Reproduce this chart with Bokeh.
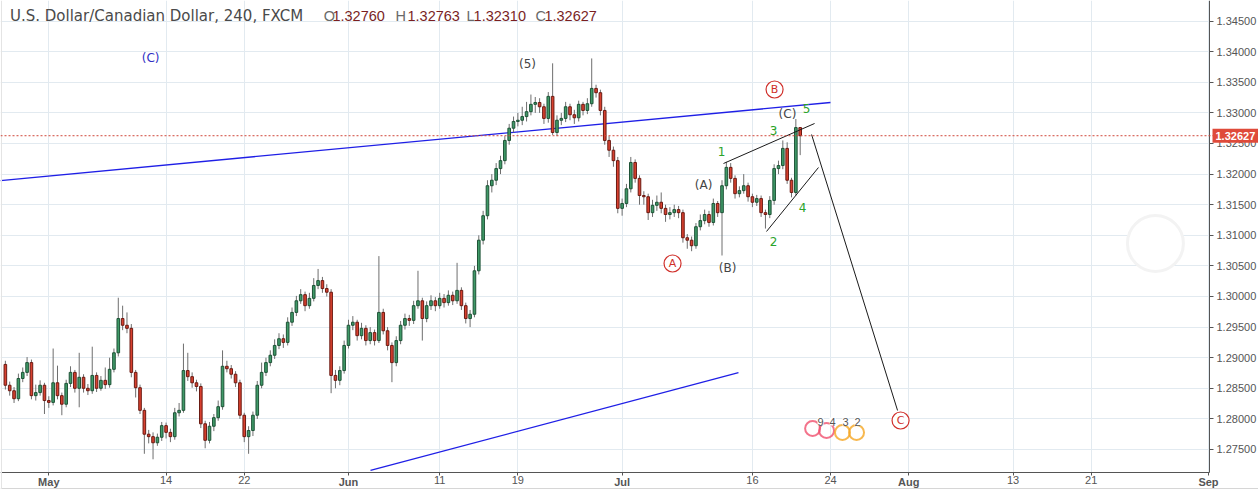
from bokeh.plotting import figure
from bokeh.models import (Range1d, FixedTicker, PrintfTickFormatter, Label, Span,
                          ColumnDataSource, BoxAnnotation)
from bokeh.embed import file_html
from bokeh.resources import INLINE
from bokeh.core.properties import value

# ---------------- data (USD/CAD, bars of 8h, x = trading-day index from 1 May 2018) ----------------
first_open = 1.2889
close = [
    1.2855, 1.2846, 1.2833, 1.2866, 1.2876, 1.2892, 1.2838, 1.2843, 1.2855, 1.2830,
    1.2827, 1.2859, 1.2838, 1.2824, 1.2858, 1.2876, 1.2850, 1.2868, 1.2850, 1.2846,
    1.2871, 1.2850, 1.2863, 1.2856, 1.2881, 1.2908, 1.2964, 1.2953, 1.2948, 1.2876,
    1.2851, 1.2814, 1.2775, 1.2771, 1.2761, 1.2770, 1.2789, 1.2778, 1.2771, 1.2810,
    1.2814, 1.2879, 1.2869, 1.2859, 1.2853, 1.2792, 1.2765, 1.2788, 1.2802, 1.2820,
    1.2886, 1.2882, 1.2873, 1.2859, 1.2806, 1.2771, 1.2781, 1.2806, 1.2855, 1.2876,
    1.2892, 1.2904, 1.2920, 1.2931, 1.2925, 1.2958, 1.2974, 1.2993, 1.3003, 1.2985,
    1.2997, 1.3018, 1.3026, 1.3013, 1.3007, 1.2871, 1.2863, 1.2879, 1.2920, 1.2953,
    1.2958, 1.2936, 1.2948, 1.2928, 1.2941, 1.2928, 1.2974, 1.2944, 1.2920, 1.2892,
    1.2928, 1.2953, 1.2964, 1.2961, 1.2985, 1.2993, 1.2964, 1.2985, 1.2993, 1.2985,
    1.2997, 1.2990, 1.3002, 1.2993, 1.3010, 1.2985, 1.2964, 1.2971, 1.3042, 1.3092,
    1.3132, 1.3181, 1.3190, 1.3209, 1.3222, 1.3255, 1.3275, 1.3286, 1.3288, 1.3294,
    1.3302, 1.3314, 1.3317, 1.3310, 1.3291, 1.3327, 1.3268, 1.3288, 1.3291, 1.3310,
    1.3297, 1.3292, 1.3314, 1.3304, 1.3315, 1.3340, 1.3333, 1.3304, 1.3255, 1.3239,
    1.3222, 1.3144, 1.3152, 1.3176, 1.3219, 1.3193, 1.3165, 1.3163, 1.3137, 1.3149,
    1.3154, 1.3144, 1.3134, 1.3137, 1.3142, 1.3137, 1.3096, 1.3092, 1.3083, 1.3114,
    1.3124, 1.3134, 1.3121, 1.3152, 1.3137, 1.3181, 1.3211, 1.3193, 1.3168, 1.3173,
    1.3181, 1.3163, 1.3154, 1.3160, 1.3137, 1.3134, 1.3157, 1.3209, 1.3214, 1.3242,
    1.3190, 1.3170, 1.3276, 1.32627]
high = [
    1.2895, 1.2861, 1.2852, 1.2874, 1.2884, 1.2901, 1.2897, 1.2856, 1.2863, 1.2859,
    1.2837, 1.2915, 1.2887, 1.2843, 1.2864, 1.2886, 1.2880, 1.2908, 1.2873, 1.2857,
    1.2918, 1.2876, 1.2870, 1.2884, 1.2900, 1.2915, 1.2998, 1.2985, 1.2974, 1.2955,
    1.2880, 1.2856, 1.2818, 1.2782, 1.2778, 1.2776, 1.2795, 1.2794, 1.2784, 1.2818,
    1.2826, 1.2923, 1.2908, 1.2876, 1.2864, 1.2858, 1.2797, 1.2795, 1.2808, 1.2830,
    1.2912, 1.2895, 1.2888, 1.2878, 1.2864, 1.2810, 1.2788, 1.2812, 1.2862, 1.2892,
    1.2900, 1.2912, 1.2930, 1.2940, 1.2938, 1.2966, 1.2982, 1.3001, 1.3012, 1.3008,
    1.3006, 1.3030, 1.3045, 1.3032, 1.3020, 1.3012, 1.2880, 1.2886, 1.2928, 1.2962,
    1.2968, 1.2962, 1.2957, 1.2953, 1.2950, 1.2946, 1.3066, 1.2980, 1.2950, 1.2925,
    1.2935, 1.2960, 1.2972, 1.2970, 1.2993, 1.3042, 1.2998, 1.2992, 1.3002, 1.2999,
    1.3006, 1.3004, 1.3010, 1.3008, 1.3055, 1.3015, 1.2990, 1.2978, 1.3050, 1.3100,
    1.3140, 1.3190, 1.3200, 1.3218, 1.3230, 1.3262, 1.3282, 1.3294, 1.3300, 1.3310,
    1.3318, 1.3330, 1.3326, 1.3324, 1.3315, 1.3334, 1.3381, 1.3296, 1.3300, 1.3318,
    1.3315, 1.3305, 1.3320, 1.3318, 1.3324, 1.3389, 1.3346, 1.3338, 1.3310, 1.3262,
    1.3245, 1.3228, 1.3160, 1.3184, 1.3228, 1.3224, 1.3198, 1.3172, 1.3168, 1.3158,
    1.3165, 1.3170, 1.3150, 1.3146, 1.3150, 1.3148, 1.3142, 1.3102, 1.3098, 1.3120,
    1.3134, 1.3142, 1.3140, 1.3160, 1.3156, 1.3190, 1.3220, 1.3218, 1.3198, 1.3180,
    1.3200, 1.3186, 1.3168, 1.3166, 1.3165, 1.3142, 1.3164, 1.3216, 1.3222, 1.3255,
    1.3252, 1.3194, 1.3290, 1.32763]
low = [
    1.2848, 1.2838, 1.2826, 1.2829, 1.2860, 1.2870, 1.2832, 1.2830, 1.2838, 1.2808,
    1.2818, 1.2822, 1.2832, 1.2806, 1.2819, 1.2852, 1.2843, 1.2819, 1.2843, 1.2839,
    1.2841, 1.2844, 1.2846, 1.2849, 1.2851, 1.2876, 1.2902, 1.2945, 1.2940, 1.2868,
    1.2835, 1.2808, 1.2743, 1.2760, 1.2734, 1.2756, 1.2764, 1.2768, 1.2762, 1.2766,
    1.2804, 1.2810, 1.2862, 1.2851, 1.2845, 1.2785, 1.2752, 1.2760, 1.2780, 1.2797,
    1.2815, 1.2876, 1.2866, 1.2852, 1.2800, 1.2762, 1.2743, 1.2772, 1.2800, 1.2850,
    1.2870, 1.2886, 1.2898, 1.2914, 1.2916, 1.2920, 1.2952, 1.2968, 1.2988, 1.2976,
    1.2980, 1.2992, 1.3012, 1.3006, 1.3000, 1.2842, 1.2850, 1.2855, 1.2874, 1.2915,
    1.2945, 1.2928, 1.2930, 1.2920, 1.2922, 1.2920, 1.2924, 1.2938, 1.2912, 1.2860,
    1.2886, 1.2922, 1.2946, 1.2952, 1.2955, 1.2980, 1.2928, 1.2958, 1.2978, 1.2976,
    1.2980, 1.2982, 1.2985, 1.2986, 1.2988, 1.2978, 1.2956, 1.2950, 1.2966, 1.3036,
    1.3085, 1.3126, 1.3170, 1.3182, 1.3200, 1.3216, 1.3248, 1.3268, 1.3278, 1.3280,
    1.3286, 1.3296, 1.3300, 1.3300, 1.3282, 1.3284, 1.3264, 1.3262, 1.3280, 1.3285,
    1.3288, 1.3282, 1.3286, 1.3296, 1.3298, 1.3310, 1.3325, 1.3296, 1.3248, 1.3228,
    1.3212, 1.3136, 1.3132, 1.3146, 1.3170, 1.3186, 1.3150, 1.3150, 1.3125, 1.3130,
    1.3140, 1.3136, 1.3122, 1.3126, 1.3130, 1.3128, 1.3088, 1.3078, 1.3074, 1.3078,
    1.3108, 1.3118, 1.3114, 1.3116, 1.3130, 1.3067, 1.3175, 1.3186, 1.3160, 1.3162,
    1.3168, 1.3155, 1.3146, 1.3148, 1.3130, 1.3111, 1.3128, 1.3150, 1.3200, 1.3208,
    1.3184, 1.3162, 1.3165, 1.32310]

last_o, last_h, last_l, last_c = 1.32760, 1.32763, 1.32310, 1.32627

tick_days = [0, 9, 15, 23, 30, 36, 44, 54, 60, 66, 74, 80, 89]
tick_labels = ["May", "14", "22", "Jun", "11", "19", "Jul", "16", "24", "Aug", "13", "21", "Sep"]
month_names = {"May", "Jun", "Jul", "Aug", "Sep"}
price_ticks = [1.275, 1.280, 1.285, 1.290, 1.295, 1.300, 1.305, 1.310, 1.315,
               1.320, 1.325, 1.330, 1.335, 1.340, 1.345]

# trend lines (day index, price)
blue1_x, blue1_y = [-3.71, 59.99], [1.31895, 1.33170]
blue2_x, blue2_y = [24.69, 52.93], [1.27157, 1.28758]
wedge_up_x, wedge_up_y = [51.78, 58.77], [1.32173, 1.32827]
wedge_lo_x, wedge_lo_y = [55.08, 59.07], [1.31062, 1.32108]
proj_x, proj_y = [58.54, 65.14], [1.32647, 1.28137]

# wave labels
paren_text = ["(C)", "(5)", "(C)", "(A)", "(B)"]
paren_x = [7.81, 36.74, 56.69, 50.25, 52.09]
paren_y = [1.33889, 1.33807, 1.32974, 1.31830, 1.30458]
paren_col = ["#2f2fc4", "#444444", "#444444", "#444444", "#444444"]
green_text = ["1", "2", "3", "4", "5"]
green_x = [51.63, 55.62, 55.62, 57.85, 58.15]
green_y = [1.32369, 1.30899, 1.32712, 1.31454, 1.33072]
circ_text = ["A", "B", "C"]
circ_x = [47.87, 55.70, 65.37]
circ_y = [1.30539, 1.33382, 1.27974]

event_text = ["9", "4", "3", "2"]
event_x = [59.23, 60.15, 61.14, 62.07]
event_y = [1.27957, 1.27957, 1.27957, 1.27957]
ring_x = [58.62, 59.69, 60.91, 61.99]
ring_y = [1.27843, 1.27810, 1.27778, 1.27778]
ring_col = ["#f0506e", "#f0506e", "#f5a623", "#f5a623"]

# ---------------- geometry of the chart frame (data units) ----------------
X0, X_AXIS, X1 = -3.707, 89.08, 92.84          # left edge, price-axis position, right edge
Y_TOP, Y_AXIS, Y_BOT = 1.348366, 1.271242, 1.268464  # top edge, time-axis position, bottom edge

BPD = 3  # bars per trading day
n = len(close)
opens = [first_open] + close[:-1]
xs = [-3.5 + (i + 0.5) / BPD for i in range(n)]
up = [c >= o for o, c in zip(opens, close)]
src = ColumnDataSource(dict(
    x=xs, h=high, l=low,
    top=[max(o, c) for o, c in zip(opens, close)],
    bot=[min(o, c) for o, c in zip(opens, close)],
    fill=["#3f9a68" if u else "#d8402f" for u in up],
    line=["#1e5236" if u else "#6a1a12" for u in up],
))

p = figure(width=1258, height=489, output_backend="svg", toolbar_location=None,
           x_range=Range1d(X0, X1), y_range=Range1d(Y_BOT, Y_TOP),
           y_axis_location="right", x_axis_location="below",
           min_border_left=0, min_border_top=0, min_border_right=0, min_border_bottom=0)
p.outline_line_color = None
p.background_fill_color = "white"
p.border_fill_color = "white"

p.xgrid.grid_line_color = "#e2eaf0"
p.ygrid.grid_line_color = "#e2eaf0"

xa = p.xaxis[0]
xa.fixed_location = Y_AXIS
xa.bounds = (X0, X_AXIS)
xa.ticker = FixedTicker(ticks=tick_days)
xa.major_label_overrides = {d: ("" if t in month_names else t) for d, t in zip(tick_days, tick_labels)}
xa.minor_tick_line_color = None
xa.major_tick_in = 0
xa.major_tick_out = 3
xa.major_label_standoff = 1
xa.axis_line_color = "#555555"
xa.major_tick_line_color = "#555555"
xa.major_label_text_font = "Liberation Sans"
xa.major_label_text_font_size = "11px"
xa.major_label_text_color = "#555555"

ya = p.yaxis[0]
ya.fixed_location = X_AXIS
ya.bounds = (Y_AXIS, Y_TOP)
ya.ticker = FixedTicker(ticks=price_ticks)
ya.formatter = PrintfTickFormatter(format="%.5f")
ya.minor_tick_line_color = None
ya.major_tick_in = 0
ya.major_tick_out = 4
ya.major_label_standoff = 3
ya.axis_line_color = "#555555"
ya.major_tick_line_color = "#555555"
ya.major_label_text_font = "Liberation Sans"
ya.major_label_text_font_size = "11px"
ya.major_label_text_color = "#555555"

# keep grid out of the scale areas
p.add_layout(BoxAnnotation(left=X_AXIS, fill_color="white", fill_alpha=1,
                           line_color=None, level="underlay"))
p.add_layout(BoxAnnotation(top=Y_AXIS, fill_color="white", fill_alpha=1,
                           line_color=None, level="underlay"))
p.add_layout(Span(location=1.268627, dimension="width", line_color="#d6d6d6", line_width=1))
p.add_layout(Span(location=-3.630, dimension="height", line_color="#e4e4e4", line_width=1))

# month labels in bold under the axis
for d, t in zip(tick_days, tick_labels):
    if t in month_names:
        p.add_layout(Label(x=d, y=1.26961, text=t, text_align="center", text_baseline="middle",
                           text_font="Liberation Sans", text_font_size="11px",
                           text_font_style="bold", text_color="#555555"))

# faint UI circle
p.scatter([84.93], [1.30866], size=56, marker="circle", fill_color="white",
          line_color="#f3f3f3", line_width=3)

# trend lines
p.line(blue1_x, blue1_y, line_color="#1f1fe6", line_width=1.3)
p.line(blue2_x, blue2_y, line_color="#1f1fe6", line_width=1.3)

# last price dotted line
p.add_layout(Span(location=last_c, dimension="width", line_color="#d0473a",
                  line_dash="2 2", line_width=1))

# candles
p.segment("x", "h", "x", "l", source=src, line_color="#6e6e6e", line_width=1)
p.vbar(x="x", width=0.2, top="top", bottom="bot", fill_color="fill",
       line_color="line", line_width=1, source=src)

# wedge and projection
p.line(wedge_up_x, wedge_up_y, line_color="#1a1a1a", line_width=1)
p.line(wedge_lo_x, wedge_lo_y, line_color="#1a1a1a", line_width=1)
p.line(proj_x, proj_y, line_color="#1a1a1a", line_width=1)

# wave labels
p.text(paren_x, paren_y, text=paren_text, text_color=paren_col, text_font=value("DejaVu Sans"),
       text_font_size="12px", text_align="center", text_baseline="middle")
p.text(green_x, green_y, text=green_text, text_color="#2aa32a", text_font=value("DejaVu Sans"),
       text_font_size="12px", text_align="center", text_baseline="middle")
p.scatter(circ_x, circ_y, size=17, marker="circle", fill_color="white",
          line_color="#d0302b", line_width=1.2)
p.text(circ_x, circ_y, text=circ_text, text_color="#d0302b", text_font=value("DejaVu Sans"),
       text_font_size="11px", text_align="center", text_baseline="middle")

# event markers
p.scatter(ring_x, ring_y, size=15, marker="circle", fill_color=None,
          line_color=ring_col, line_width=2, line_alpha=0.8)
p.text(event_x, event_y, text=event_text, text_color="#555555", text_font=value("Liberation Sans"),
       text_font_size="11px", text_align="center", text_baseline="middle",
       background_fill_color="white")

# title / OHLC
p.text([-2.978], [1.34583], text=["U.S. Dollar/Canadian Dollar, 240, FXCM"],
       text_color="#4a4a4a", text_font=value("DejaVu Sans"), text_font_size="15px",
       text_align="left", text_baseline="middle")
ohlc_letters = ["O", "H", "L", "C"]
ohlc_vals = ["%.5f" % v for v in (last_o, last_h, last_l, last_c)]
ohlc_letter_x = [21.11, 26.61, 32.06, 37.35]
ohlc_val_x = [21.77, 27.53, 32.60, 38.04]
p.text(ohlc_letter_x, [1.34583] * 4, text=ohlc_letters, text_color="#6a6a6a",
       text_font=value("Liberation Sans"), text_font_size="14.5px",
       text_align="left", text_baseline="middle")
p.text(ohlc_val_x, [1.34583] * 4, text=ohlc_vals, text_color="#7a1f1f",
       text_font=value("Liberation Sans"), text_font_size="14.5px",
       text_align="left", text_baseline="middle")

# price tag on the axis
p.add_layout(Label(x=89.31, y=last_c, text="%.5f" % last_c, text_align="left",
                   text_baseline="middle", text_color="white", text_font="Liberation Sans",
                   text_font_size="11px", text_font_style="bold",
                   background_fill_color="#df4a3a", padding=3))

open("out.html", "w").write(file_html(p, INLINE))
